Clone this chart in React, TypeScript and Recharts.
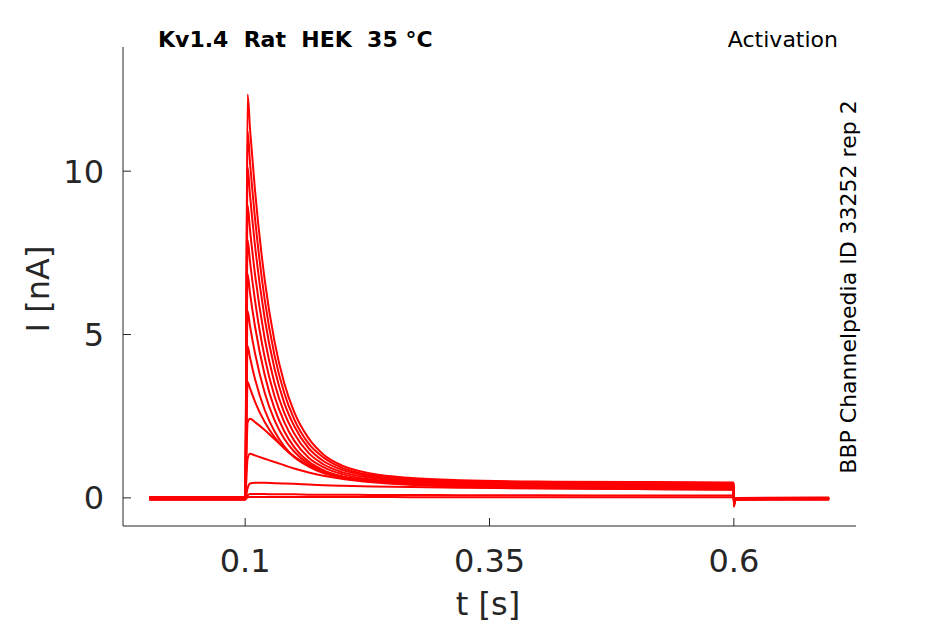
import { LineChart, Line, XAxis, YAxis } from 'recharts';

// sample times [s]
const times = [0.002, 0.0999, 0.1, 0.1025, 0.105, 0.11, 0.12, 0.13, 0.14, 0.15, 0.165, 0.18, 0.2, 0.23, 0.27, 0.32, 0.4, 0.5, 0.5999, 0.6, 0.6015, 0.603, 0.6975];

// current traces [nA], one per voltage step
const sweep13 = [0.01, 0.01, 0.01, 12.35, 11.28, 9.44, 6.67, 4.79, 3.51, 2.64, 1.82, 1.33, 0.98, 0.74, 0.61, 0.54, 0.5, 0.49, 0.47, -0.27, -0.06, -0.04, -0.03];
const sweep12 = [-0.03, -0.03, -0.03, 11.22, 10.25, 8.58, 6.07, 4.37, 3.21, 2.42, 1.66, 1.24, 0.91, 0.69, 0.58, 0.52, 0.48, 0.47, 0.45, -0.25, -0.04, -0.02, -0.01];
const sweep11 = [0.02, 0.02, 0.02, 10.12, 9.25, 7.74, 5.49, 3.96, 2.91, 2.21, 1.52, 1.13, 0.85, 0.65, 0.54, 0.49, 0.46, 0.45, 0.43, -0.23, -0.07, -0.05, -0.04];
const sweep10 = [-0.05, -0.05, -0.05, 8.96, 8.19, 6.86, 4.88, 3.52, 2.6, 1.98, 1.37, 1.03, 0.78, 0.61, 0.51, 0.46, 0.44, 0.43, 0.41, -0.21, -0.03, -0.01, 0];
const sweep9 = [0, 0, 0, 7.89, 7.22, 6.06, 4.3, 3.12, 2.32, 1.76, 1.23, 0.94, 0.72, 0.56, 0.48, 0.44, 0.42, 0.41, 0.39, -0.19, -0.05, -0.03, -0.02];
const sweep8 = [-0.02, -0.02, -0.02, 6.85, 6.26, 5.26, 3.76, 2.73, 2.04, 1.56, 1.11, 0.85, 0.65, 0.53, 0.45, 0.41, 0.4, 0.39, 0.37, -0.17, -0.06, -0.04, -0.03];
const sweep7 = [0.03, 0.03, 0.03, 5.72, 5.25, 4.44, 3.22, 2.38, 1.81, 1.42, 1.04, 0.81, 0.64, 0.52, 0.45, 0.4, 0.38, 0.37, 0.35, -0.15, -0.02, 0, 0.01];
const sweep6 = [-0.04, -0.04, -0.04, 4.65, 4.29, 3.65, 2.69, 2.04, 1.58, 1.26, 0.96, 0.76, 0.61, 0.5, 0.42, 0.39, 0.36, 0.35, 0.33, -0.13, -0.05, -0.03, -0.02];
const sweep5 = [0.01, 0.01, 0.01, 3.55, 3.35, 2.95, 2.32, 1.86, 1.52, 1.27, 0.99, 0.81, 0.65, 0.51, 0.43, 0.37, 0.34, 0.33, 0.31, -0.11, -0.04, -0.02, -0.01];
const sweep4 = [-0.01, -0.01, -0.01, 2.3, 2.42, 2.32, 2.08, 1.8, 1.52, 1.25, 0.98, 0.8, 0.63, 0.5, 0.42, 0.36, 0.33, 0.31, 0.3, -0.09, -0.03, -0.02, -0.01];
const sweep3 = [0.02, 0.02, 0.02, 1.2, 1.35, 1.3, 1.2, 1.1, 1.0, 0.9, 0.78, 0.68, 0.58, 0.48, 0.4, 0.34, 0.3, 0.27, 0.26, -0.07, -0.04, -0.03, -0.02];
const sweep2 = [-0.03, -0.03, -0.03, 0.3, 0.44, 0.46, 0.46, 0.45, 0.44, 0.43, 0.41, 0.39, 0.37, 0.35, 0.33, 0.31, 0.29, 0.27, 0.25, -0.05, -0.05, -0.04, -0.03];
const sweep1 = [0, 0, 0, 0.08, 0.12, 0.12, 0.12, 0.11, 0.11, 0.11, 0.1, 0.1, 0.1, 0.09, 0.09, 0.08, 0.08, 0.07, 0.07, -0.03, -0.02, -0.02, -0.02];
const sweep0 = [-0.06, -0.06, -0.06, 0.02, 0.03, 0.03, 0.03, 0.03, 0.03, 0.03, 0.03, 0.03, 0.03, 0.03, 0.02, 0.02, 0.02, 0.02, 0.02, -0.03, -0.06, -0.06, -0.06];

const sweeps = [sweep0, sweep1, sweep2, sweep3, sweep4, sweep5, sweep6, sweep7, sweep8, sweep9, sweep10, sweep11, sweep12, sweep13];

const xTicks = [0.1, 0.35, 0.6];
const yTicks = [0, 5, 10];

const data = times.map((t, i) => {
  const row: Record<string, number> = { t };
  sweeps.forEach((s, k) => {
    row[`s${k}`] = s[i];
  });
  return row;
});

const axisColor = '#262626';
const font = 'DejaVu Sans';
const TICK_LEN = 8;
const Y_GAP = 19;

// matlab style: tick marks point into the plot
const XTick = (props: any) => {
  const { x, y, payload } = props;
  return (
    <g>
      <line x1={x} x2={x} y1={y} y2={y - TICK_LEN} stroke={axisColor} strokeWidth={1} />
      <text x={x} y={y + 46} textAnchor="middle" fill={axisColor} fontSize={32} fontFamily={font}>
        {payload.value}
      </text>
    </g>
  );
};

const YTick = (props: any) => {
  const { x, y, payload } = props;
  const ax = x + Y_GAP;
  return (
    <g>
      <line x1={ax} x2={ax + TICK_LEN} y1={y} y2={y} stroke={axisColor} strokeWidth={1} />
      <text x={x} y={y} dy="0.36em" textAnchor="end" fill={axisColor} fontSize={32} fontFamily={font}>
        {payload.value}
      </text>
    </g>
  );
};

export default function App() {
  return (
    <div style={{ position: 'absolute', left: 0, top: 0, width: 945, height: 624, background: '#fff', fontFamily: font }}>
      <LineChart width={945} height={624} data={data} margin={{ top: 47, right: 89, bottom: 48, left: 63 }}>
        <XAxis
          dataKey="t"
          type="number"
          domain={[-0.025, 0.725]}
          ticks={xTicks}
          allowDataOverflow
          height={50}
          stroke={axisColor}
          tickLine={false}
          tickSize={0}
          tickMargin={0}
          tick={<XTick />}
        />
        <YAxis
          type="number"
          domain={[-0.86, 13.8]}
          ticks={yTicks}
          allowDataOverflow
          width={60}
          stroke={axisColor}
          tickLine={false}
          tickSize={0}
          tickMargin={Y_GAP}
          tick={<YTick />}
        />
        {sweeps.map((_, k) => (
          <Line
            key={k}
            dataKey={`s${k}`}
            type="monotone"
            stroke="#ff0000"
            strokeWidth={2}
            dot={false}
            isAnimationActive={false}
          />
        ))}
      </LineChart>
      <svg width={945} height={624} style={{ position: 'absolute', left: 0, top: 0, pointerEvents: 'none' }}>
        <text x={158} y={47} fontSize={22} fontWeight="bold" fill="#000" fontFamily={font} style={{ whiteSpace: 'pre' }}>
          {'Kv1.4  Rat  HEK  35 °C'}
        </text>
        <text x={838} y={47} fontSize={22} fill="#000" textAnchor="end" fontFamily={font}>
          Activation
        </text>
        <text x={856} y={287} fontSize={22} fill="#000" textAnchor="middle" fontFamily={font} transform="rotate(-90, 856, 287)">
          BBP Channelpedia ID 33252 rep 2
        </text>
        <text x={49} y={289} fontSize={32} fill={axisColor} textAnchor="middle" fontFamily={font} transform="rotate(-90, 49, 289)">
          I [nA]
        </text>
        <text x={488} y={615} fontSize={32} fill={axisColor} textAnchor="middle" fontFamily={font}>
          t [s]
        </text>
      </svg>
    </div>
  );
}
